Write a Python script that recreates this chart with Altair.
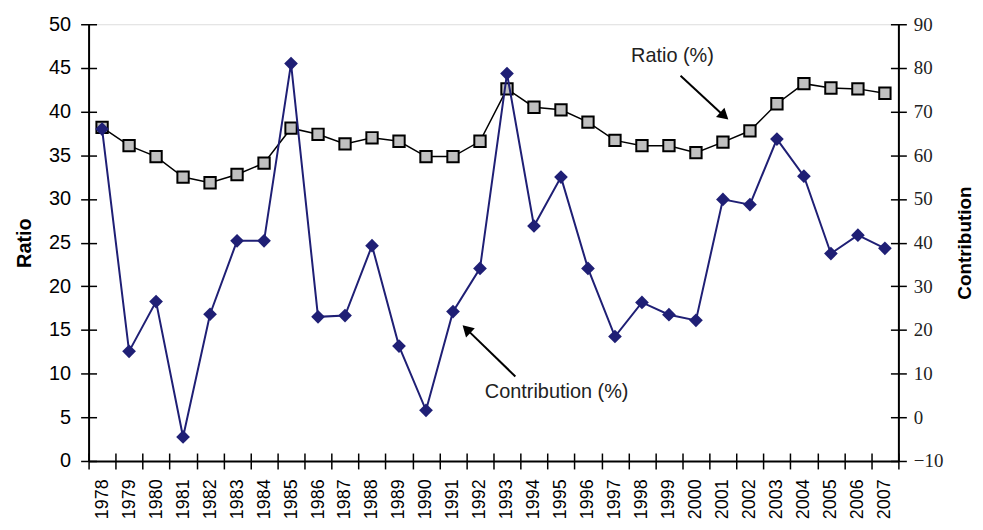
import altair as alt
import pandas as pd

# ---------------- data ----------------
years = list(range(1978, 2008))
ratio = [38.2, 36.1, 34.85, 32.5, 31.85, 32.8, 34.1, 38.1, 37.4, 36.3,
         37.0, 36.6, 34.85, 34.85, 36.6, 42.6, 40.5, 40.2, 38.8, 36.7,
         36.1, 36.1, 35.3, 36.5, 37.8, 40.9, 43.2, 42.7, 42.6, 42.1]
contribution = [66.0, 15.1, 26.5, -4.5, 23.6, 40.4, 40.4, 81.0, 23.0, 23.3,
                39.3, 16.3, 1.6, 24.2, 34.1, 78.7, 43.8, 55.0, 34.1, 18.5,
                26.3, 23.5, 22.2, 49.9, 48.7, 63.7, 55.2, 37.5, 41.7, 38.7]

year_boundaries = [y - 0.5 for y in years] + [years[-1] + 0.5]
ratio_ticks = list(range(0, 51, 5))
contrib_ticks = list(range(-10, 91, 10))

# annotations (in data units)
ratio_label = ["Ratio (%)"]
ratio_label_x = [1999.13]
ratio_label_y = [46.35]
ratio_arrow_x = [1999.43]
ratio_arrow_y = [44.1]
ratio_arrow_x2 = [2001.0]
ratio_arrow_y2 = [39.6]
ratio_head_x = [2001.05]
ratio_head_y = [39.5]

contrib_label = ["Contribution (%)"]
contrib_label_x = [1994.84]
contrib_label_y = [5.72]
contrib_arrow_x = [1993.31]
contrib_arrow_y = [9.36]
contrib_arrow_x2 = [1991.55]
contrib_arrow_y2 = [19.9]
contrib_head_x = [1991.5]
contrib_head_y = [20.2]

df = pd.DataFrame({"year": years, "ratio": ratio, "contribution": contribution})
ratio_ann = pd.DataFrame({"label": ratio_label, "lx": ratio_label_x, "ly": ratio_label_y,
                          "x": ratio_arrow_x, "y": ratio_arrow_y,
                          "x2": ratio_arrow_x2, "y2": ratio_arrow_y2,
                          "hx": ratio_head_x, "hy": ratio_head_y})
contrib_ann = pd.DataFrame({"label": contrib_label, "lx": contrib_label_x, "ly": contrib_label_y,
                            "x": contrib_arrow_x, "y": contrib_arrow_y,
                            "x2": contrib_arrow_x2, "y2": contrib_arrow_y2,
                            "hx": contrib_head_x, "hy": contrib_head_y})

# ---------------- styling ----------------
SANS = "Liberation Sans, Arial, sans-serif"
SERIF = "Liberation Serif, Times New Roman, serif"
NAVY = "#1f1f75"

xscale = alt.Scale(domain=[1977.5, 2007.5], nice=False, zero=False)
rscale = alt.Scale(domain=[0, 50], nice=False, zero=False)
cscale = alt.Scale(domain=[-10, 90], nice=False, zero=False)

x_label_axis = alt.Axis(orient="bottom", values=years, format="d", labelAngle=270,
                        labelAlign="right", labelBaseline="middle",
                        labelFont=SANS, labelFontSize=18, labelColor="black",
                        labelPadding=10, tickSize=8, tickOpacity=0,
                        domainColor="black", domainWidth=2, grid=False, title=None)
x_tick_axis = alt.Axis(orient="bottom", values=year_boundaries, offset=-8, tickSize=16,
                       tickColor="black", tickWidth=1.5, domain=False, labels=False,
                       grid=False, title=None)

r_label_axis = alt.Axis(orient="left", values=ratio_ticks, labelFont=SANS, labelFontSize=20,
                        labelColor="black", labelPadding=10, tickSize=8, tickOpacity=0,
                        domainColor="black", domainWidth=2, grid=False,
                        title="Ratio", titleFont=SANS, titleFontSize=20, titleFontWeight="bold",
                        titleColor="black", titlePadding=14)
r_tick_axis = alt.Axis(orient="left", values=ratio_ticks, offset=-8, tickSize=16,
                       tickColor="black", tickWidth=1.5, domain=False, labels=False,
                       grid=False, title=None)

c_label_axis = alt.Axis(orient="right", values=contrib_ticks, labelFont=SERIF, labelFontSize=19,
                        labelColor="#222222", labelPadding=7, tickSize=8, tickOpacity=0,
                        domainColor="black", domainWidth=2, grid=False,
                        title="Contribution", titleFont=SANS, titleFontSize=19,
                        titleFontWeight="bold", titleColor="black", titleAngle=270,
                        titleBaseline="top", titlePadding=13)
c_tick_axis = alt.Axis(orient="right", values=contrib_ticks, offset=-8, tickSize=16,
                       tickColor="black", tickWidth=1.5, domain=False, labels=False,
                       grid=False, title=None)

base = alt.Chart(df)

ratio_line = base.mark_line(color="black", strokeWidth=1.5).encode(
    x=alt.X("year:Q", scale=xscale, axis=x_label_axis),
    y=alt.Y("ratio:Q", scale=rscale, axis=r_label_axis),
)
ratio_pts = base.mark_point(shape="square", filled=True, fill="#c0c0c0", stroke="black",
                            strokeWidth=2, size=130, opacity=1).encode(
    x=alt.X("year:Q", scale=xscale, axis=x_tick_axis),
    y=alt.Y("ratio:Q", scale=rscale, axis=r_tick_axis),
)
contrib_line = base.mark_line(color=NAVY, strokeWidth=2).encode(
    x=alt.X("year:Q", scale=xscale, axis=None),
    y=alt.Y("contribution:Q", scale=cscale, axis=c_label_axis),
)
contrib_pts = base.mark_point(shape="diamond", filled=True, color=NAVY, size=190,
                              opacity=1).encode(
    x=alt.X("year:Q", scale=xscale, axis=None),
    y=alt.Y("contribution:Q", scale=cscale, axis=c_tick_axis),
)

def annotation(ann, scale, head_angle):
    b = alt.Chart(ann)
    text = b.mark_text(font=SANS, fontSize=20, color="#222222").encode(
        x=alt.X("lx:Q", scale=xscale, axis=None),
        y=alt.Y("ly:Q", scale=scale, axis=None),
        text="label:N",
    )
    rule = b.mark_rule(color="black", strokeWidth=2).encode(
        x=alt.X("x:Q", scale=xscale, axis=None),
        y=alt.Y("y:Q", scale=scale, axis=None),
        x2="x2:Q", y2="y2:Q",
    )
    head = b.mark_point(shape="triangle-up", filled=True, color="black", size=160,
                        angle=head_angle, opacity=1).encode(
        x=alt.X("hx:Q", scale=xscale, axis=None),
        y=alt.Y("hy:Q", scale=scale, axis=None),
    )
    return [text, rule, head]

layers = ([ratio_line, ratio_pts, contrib_line, contrib_pts]
          + annotation(ratio_ann, rscale, 132)
          + annotation(contrib_ann, cscale, 314))

chart = alt.layer(*layers).resolve_scale(y="independent").resolve_axis(
    x="independent", y="independent"
).properties(
    width=814, height=439,
    padding={"left": 6, "top": 5, "right": 0, "bottom": 0},
).configure_view(stroke="black", strokeWidth=2).configure(background="white")

chart.save("out.html", embed_options={"renderer": "svg", "actions": False})
